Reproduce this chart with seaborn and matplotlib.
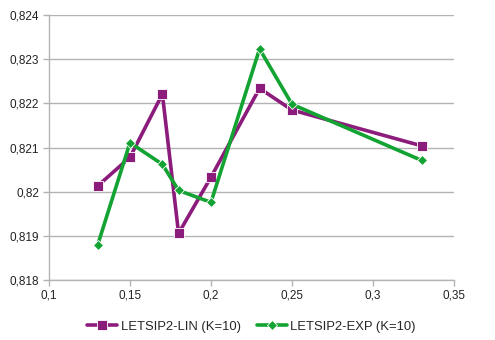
import matplotlib
matplotlib.use("Agg")
import matplotlib.pyplot as plt
import seaborn as sns
import pandas as pd
from matplotlib.ticker import FuncFormatter, MultipleLocator

x_vals = [0.13, 0.15, 0.17, 0.18, 0.20, 0.23, 0.25, 0.33]
lin_vals = [0.82013, 0.82078, 0.82221, 0.81906, 0.82033, 0.82234, 0.82185, 0.82104]
exp_vals = [0.81879, 0.82111, 0.82062, 0.82003, 0.81976, 0.82323, 0.82198, 0.82071]
series_names = ["LETSIP2-LIN (K=10)", "LETSIP2-EXP (K=10)"]

df = pd.concat([
    pd.DataFrame({"x": x_vals, "y": lin_vals, "series": series_names[0]}),
    pd.DataFrame({"x": x_vals, "y": exp_vals, "series": series_names[1]}),
])

sns.set_theme(style="white")
plt.rcParams['font.family'] = ['Liberation Sans', 'DejaVu Sans']

fig, ax = plt.subplots(figsize=(4.95, 3.4), dpi=100)
fig.subplots_adjust(left=0.099, right=0.917, top=0.956, bottom=0.176)

palette = {series_names[0]: "#8c1c7c", series_names[1]: "#12a332"}
sns.lineplot(data=df, x="x", y="y", hue="series", style="series",
             markers={series_names[0]: "s", series_names[1]: "D"},
             dashes=False, palette=palette, linewidth=2.6, ax=ax,
             markersize=7, markeredgewidth=0.6, sort=False)
for line in ax.lines:
    if line.get_marker() == "D":
        line.set_markersize(5.5)

ax.set_xlim(0.1, 0.35)
ax.set_ylim(0.818, 0.824)
ax.xaxis.set_major_locator(MultipleLocator(0.05))
ax.yaxis.set_major_locator(MultipleLocator(0.001))
fmt = FuncFormatter(lambda v, p: ("%g" % round(v, 4)).replace(".", ","))
ax.xaxis.set_major_formatter(fmt)
ax.yaxis.set_major_formatter(fmt)

ax.grid(axis="y", color="#b3b3b3", linewidth=1)
ax.set_axisbelow(True)
for s in ["top", "right"]:
    ax.spines[s].set_visible(False)
for s in ["left", "bottom"]:
    ax.spines[s].set_color("#b3b3b3")
    ax.spines[s].set_linewidth(1)
ax.tick_params(axis="both", length=4, width=1, color="#b3b3b3",
               labelsize=8.5, labelcolor="#222222", pad=3, bottom=True, left=True)
ax.set_xlabel("")
ax.set_ylabel("")

handles, labels = ax.get_legend_handles_labels()
ax.legend(handles=handles, labels=labels, loc="center",
          bbox_to_anchor=(0.5, -0.175), ncol=2, frameon=False,
          fontsize=9.4, handlelength=2.3, columnspacing=1.2, handletextpad=0.3)

fig.savefig("out.png", dpi=100)
